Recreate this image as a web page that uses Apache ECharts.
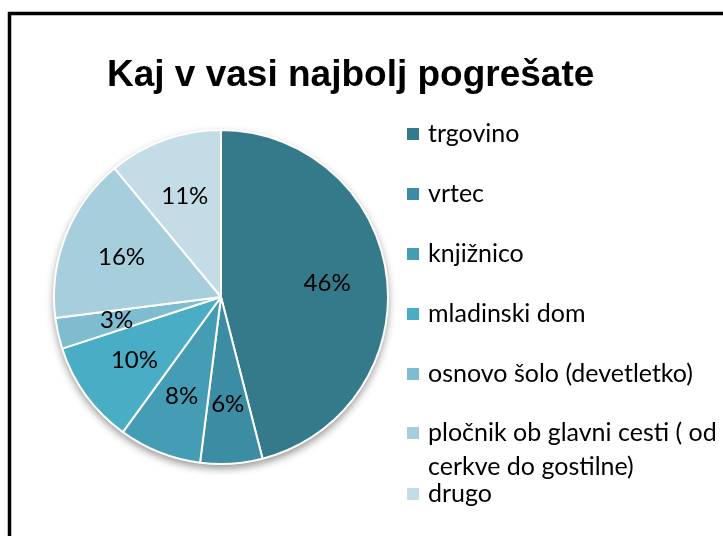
<!DOCTYPE html>
<html>
<head>
<meta charset="utf-8">
<script src="https://cdn.jsdelivr.net/npm/echarts@6/dist/echarts.min.js"></script>
<style>
  html, body { margin: 0; padding: 0; background: #fff; }
  #chart { width: 723px; height: 536px; }
</style>
</head>
<body>
<div id="chart"></div>
<script>
const titleText = 'Kaj v vasi najbolj pogrešate';
const categories = ['trgovino', 'vrtec', 'knjižnico', 'mladinski dom', 'osnovo šolo (devetletko)', 'pločnik ob glavni cesti ( od cerkve do gostilne)', 'drugo'];
const values = [46, 6, 8, 10, 3, 16, 11];
const colors = ['#357A8A', '#3C8CA3', '#449DB5', '#4AADC6', '#7EBCCF', '#A7CEDC', '#C3DCE5'];

const pieData = categories.map((c, i) => ({ name: c, value: values[i], itemStyle: { color: colors[i] } }));

const chart = echarts.init(document.getElementById('chart'), null, { renderer: 'canvas' });
const legendFont = { fontFamily: 'Lato', fontSize: 25, color: '#000', lineHeight: 30, padding: [0, 0, 0, 4] };

chart.setOption({
  animation: false,
  backgroundColor: '#fff',
  title: {
    text: titleText,
    left: 107, top: 57, padding: 0,
    textStyle: { fontFamily: 'Liberation Sans', fontWeight: 'bold', fontSize: 37, color: '#000' }
  },
  graphic: [{
    type: 'rect', silent: true, z: -10,
    shape: { x: 9.5, y: 13.5, width: 900, height: 700 },
    style: { fill: 'none', stroke: '#000', lineWidth: 3.5 }
  }],
  legend: [
    {
      orient: 'vertical', left: 407, top: 119, padding: 0,
      itemWidth: 12, itemHeight: 12, itemGap: 30, icon: 'rect',
      selectedMode: false,
      data: categories.slice(0, 5),
      textStyle: legendFont
    },
    {
      orient: 'vertical', left: 407, top: 382, padding: 0,
      itemWidth: 12, itemHeight: 12, icon: 'rect',
      selectedMode: false,
      formatter: function () { return ' \npločnik ob glavni cesti ( od\ncerkve do gostilne)'; },
      data: [categories[5]],
      textStyle: { fontFamily: 'Lato', fontSize: 25, color: '#000', lineHeight: 34, padding: [0, 0, 0, 4] }
    },
    {
      orient: 'vertical', left: 407, top: 479, padding: 0,
      itemWidth: 12, itemHeight: 12, icon: 'rect',
      selectedMode: false,
      data: [categories[6]],
      textStyle: legendFont
    }
  ],
  series: [
    {
      name: 'shadow', type: 'pie', center: [221, 297], radius: 167, z: 1,
      silent: true, label: { show: false }, labelLine: { show: false },
      itemStyle: { shadowBlur: 8, shadowOffsetY: 4, shadowColor: 'rgba(0,0,0,0.45)' },
      data: pieData
    },
    {
      name: 'main', type: 'pie', center: [221, 297], radius: 167, z: 2,
      silent: true, label: { show: false }, labelLine: { show: false },
      itemStyle: { borderColor: '#fff', borderWidth: 2 },
      data: pieData
    },
    {
      name: 'labels', type: 'pie', center: [221, 297], radius: [41, 167], z: 3,
      silent: true, labelLine: { show: false },
      itemStyle: { color: 'rgba(0,0,0,0)' },
      label: { show: true, position: 'inside', formatter: '{c}%', fontFamily: 'Lato', fontSize: 24, color: '#000' },
      data: categories.map((c, i) => ({ name: c, value: values[i] }))
    }
  ]
});
</script>
</body>
</html>
